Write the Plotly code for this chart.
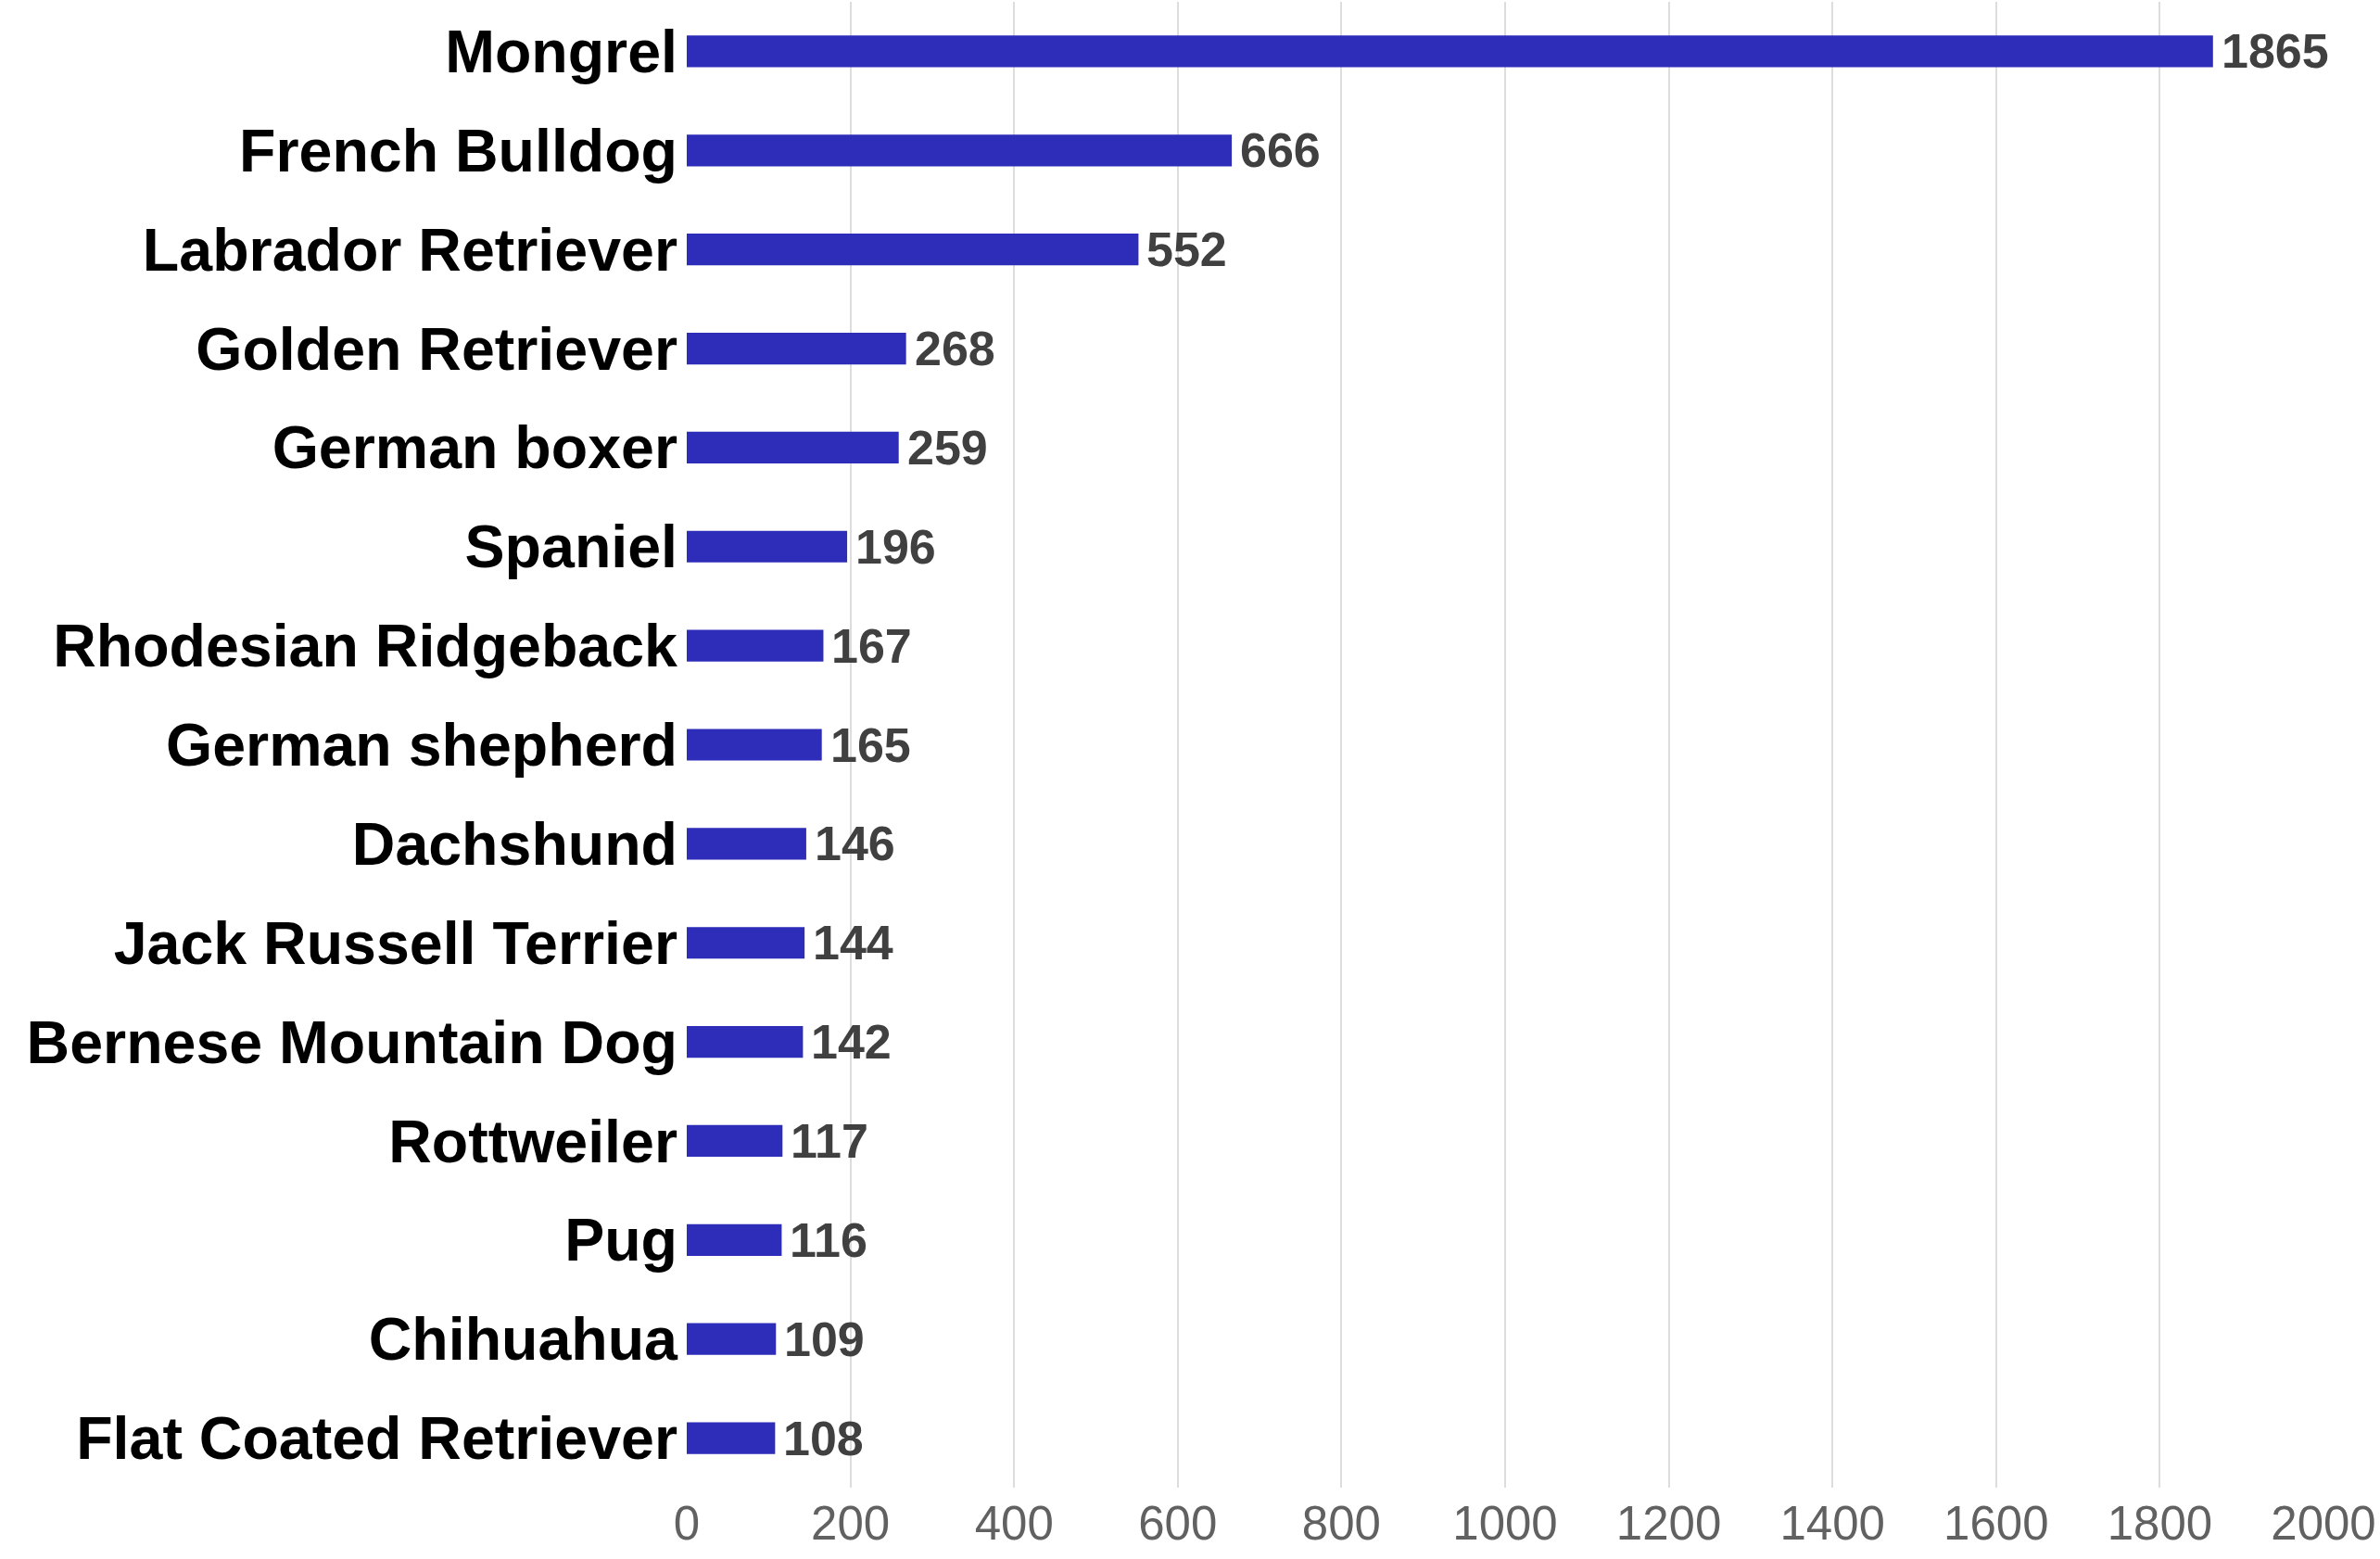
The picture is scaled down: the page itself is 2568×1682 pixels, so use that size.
import plotly.graph_objects as go

breeds = ["Mongrel", "French Bulldog", "Labrador Retriever", "Golden Retriever",
          "German boxer", "Spaniel", "Rhodesian Ridgeback", "German shepherd",
          "Dachshund", "Jack Russell Terrier", "Bernese Mountain Dog", "Rottweiler",
          "Pug", "Chihuahua", "Flat Coated Retriever"]
counts = [1865, 666, 552, 268, 259, 196, 167, 165, 146, 144, 142, 117, 116, 109, 108]
x_ticks = [0, 200, 400, 600, 800, 1000, 1200, 1400, 1600, 1800, 2000]

FONT = "Liberation Sans, Arial, sans-serif"

fig = go.Figure(go.Bar(
    x=counts, y=breeds, orientation="h",
    marker=dict(color="#2E2DB9", line=dict(width=0)),
    width=0.32,
))

for b, c in zip(breeds, counts):
    fig.add_annotation(x=c, y=b, text=str(c), showarrow=False,
                       xanchor="left", yanchor="middle", xshift=7,
                       font=dict(family=FONT, size=52, color="#404040", weight="bold"))

fig.update_layout(
    width=2568, height=1682,
    margin=dict(l=741, r=61, t=2, b=77),
    paper_bgcolor="white", plot_bgcolor="white",
    showlegend=False,
    font=dict(family=FONT),
)
fig.update_xaxes(
    range=[0, 2000], tickvals=x_ticks, showgrid=True, gridcolor="#DDDDDD",
    gridwidth=2, zeroline=False, showline=False, ticks="",
    tickfont=dict(family=FONT, size=51, color="#616161"),
    ticklabelstandoff=4,
)
fig.update_yaxes(
    categoryorder="array", categoryarray=breeds, autorange="reversed",
    showgrid=False, zeroline=False, showline=False, ticks="",
    tickfont=dict(family=FONT, size=64.5, color="#000000", weight="bold"),
    ticklabelstandoff=9,
)

fig.write_html("out.html",
               config={"displayModeBar": False},
               post_script="document.body.style.margin='0';document.body.style.overflow='hidden';")
